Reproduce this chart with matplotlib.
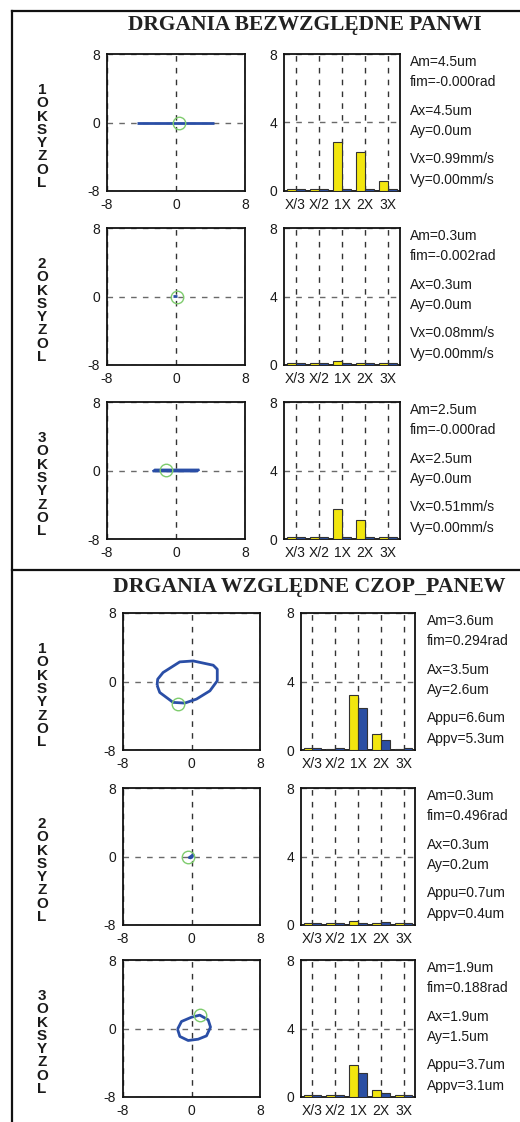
import matplotlib
matplotlib.use("Agg")
import matplotlib.pyplot as plt
from matplotlib.lines import Line2D

plt.rcParams['font.family'] = ['Liberation Sans', 'DejaVu Sans']

# ---------------- data ----------------
categories = ["X/3", "X/2", "1X", "2X", "3X"]
title_abs = "DRGANIA BEZWZGLĘDNE PANWI"
title_rel = "DRGANIA WZGLĘDNE CZOP_PANEW"
bearing_numbers = ["1", "2", "3"]
bearing_letters = ["O", "K", "S", "Y", "Z", "O", "L"]
orbit_ticks = [-8, 0, 8]
bar_ticks = [0, 4, 8]

# absolute vibrations (bearing shell) - spectrum amplitudes
abs_yellow = [
    [0.09, 0.09, 2.85, 2.27, 0.58],
    [0.09, 0.09, 0.24, 0.12, 0.09],
    [0.09, 0.09, 1.75, 1.12, 0.09],
]
abs_blue = [
    [0.09, 0.09, 0.09, 0.09, 0.09],
    [0.09, 0.09, 0.09, 0.09, 0.09],
    [0.09, 0.09, 0.09, 0.09, 0.09],
]
# relative vibrations (journal - bearing)
rel_yellow = [
    [0.09, 0.08, 3.20, 0.95, 0.08],
    [0.09, 0.09, 0.24, 0.12, 0.09],
    [0.09, 0.09, 1.85, 0.43, 0.09],
]
rel_blue = [
    [0.09, 0.09, 2.44, 0.61, 0.09],
    [0.09, 0.09, 0.14, 0.16, 0.09],
    [0.09, 0.09, 1.41, 0.25, 0.09],
]

abs_info = [
    ["Am=4.5um", "fim=-0.000rad", "Ax=4.5um", "Ay=0.0um", "Vx=0.99mm/s", "Vy=0.00mm/s"],
    ["Am=0.3um", "fim=-0.002rad", "Ax=0.3um", "Ay=0.0um", "Vx=0.08mm/s", "Vy=0.00mm/s"],
    ["Am=2.5um", "fim=-0.000rad", "Ax=2.5um", "Ay=0.0um", "Vx=0.51mm/s", "Vy=0.00mm/s"],
]
rel_info = [
    ["Am=3.6um", "fim=0.294rad", "Ax=3.5um", "Ay=2.6um", "Appu=6.6um", "Appv=5.3um"],
    ["Am=0.3um", "fim=0.496rad", "Ax=0.3um", "Ay=0.2um", "Appu=0.7um", "Appv=0.4um"],
    ["Am=1.9um", "fim=0.188rad", "Ax=1.9um", "Ay=1.5um", "Appu=3.7um", "Appv=3.1um"],
]

# orbits
abs_orbit_x1 = [-4.5, 4.4]
abs_orbit_y1 = [0.0, 0.0]
abs_orbit_x2 = [-0.3, 0.1]
abs_orbit_y2 = [0.05, 0.05]
abs_orbit_x3 = [-2.45, 2.7, 2.45, -2.7, -2.45]
abs_orbit_y3 = [0.1, 0.1, -0.1, -0.1, 0.1]
abs_marker_x = [0.4, 0.15, -1.2]
abs_marker_y = [0.0, -0.05, 0.1]

rel_orbit_x1 = [-4.02, -3.71, -2.15, -0.78, 0.59, 2.15, 3.01, 3.01, 2.54, 0.20, -1.37, -3.32, -3.95, -4.02]
rel_orbit_y1 = [-0.43, -1.28, -2.44, -2.52, -2.05, -1.09, 0.08, 1.43, 1.90, 2.40, 2.29, 1.05, 0.27, -0.43]
rel_orbit_x2 = [-0.35, 0.25, 0.1, -0.1, -0.35]
rel_orbit_y2 = [-0.15, 0.3, -0.1, -0.2, -0.15]
rel_orbit_x3 = [-1.63, -1.17, 0.0, 0.97, 1.95, 2.22, 1.75, 0.78, -0.39, -1.36, -1.63]
rel_orbit_y3 = [-0.08, 0.82, 1.32, 1.56, 1.01, 0.16, -0.86, -1.25, -1.40, -0.93, -0.08]
rel_marker_x = [-1.6, -0.4, 1.0]
rel_marker_y = [-2.6, 0.0, 1.6]

# ---------------- styles ----------------
W, H = 520, 1122
YELLOW = '#f2e60f'
BLUE = '#2b4fa3'
GREEN = '#7fcc6e'
LINE_BLUE = '#2a4ea6'
TXT = '#1a1a1a'
FS = 10

fig = plt.figure(figsize=(W / 100, H / 100), dpi=100)
fig.patch.set_facecolor('white')


def ax_px(x, y, w, h):
    return fig.add_axes([x / W, 1 - (y + h) / H, w / W, h / H])


def style_axes(ax):
    for s in ax.spines.values():
        s.set_linewidth(1.3)
        s.set_color('#111111')
    ax.tick_params(length=0, pad=5, labelsize=FS, colors=TXT)
    ax.set_axisbelow(True)
    ax.xaxis.grid(True, color='#333333', linestyle=(0, (4, 4.5)), linewidth=1.0)
    ax.yaxis.grid(True, color='#6a6a6a', linestyle=(0, (4, 4.5)), linewidth=1.0)


def orbit(ax, xs, ys, mx, my, fill=False):
    style_axes(ax)
    if fill:
        ax.fill(xs, ys, color=LINE_BLUE, lw=1.5, edgecolor=LINE_BLUE, zorder=3)
    else:
        ax.plot(xs, ys, color=LINE_BLUE, lw=2.0, solid_capstyle='butt', zorder=3)
    ax.plot([mx], [my], 'o', ms=9, mfc='none', mec=GREEN, mew=1.0, zorder=4)
    ax.set_xlim(-8, 8)
    ax.set_ylim(-8, 8)
    ax.set_xticks(orbit_ticks)
    ax.set_yticks(orbit_ticks)
    ax.set_xticklabels([str(t) for t in orbit_ticks])
    ax.set_yticklabels([str(t) for t in orbit_ticks])


def bars(ax, yv, bv):
    style_axes(ax)
    pos = list(range(1, len(categories) + 1))
    bw = 0.39
    ax.bar([p - bw / 2 for p in pos], yv, width=bw, color=YELLOW,
           edgecolor='#333333', linewidth=0.8, zorder=3)
    ax.bar([p + bw / 2 for p in pos], bv, width=bw, color=BLUE,
           edgecolor='#333333', linewidth=0.8, zorder=3)
    ax.set_xlim(0.5, 5.5)
    ax.set_ylim(0, 8)
    ax.set_xticks(pos)
    ax.set_xticklabels(categories)
    ax.set_yticks(bar_ticks)
    ax.set_yticklabels([str(t) for t in bar_ticks])


def info(x, top, lines):
    offs = [8, 28, 57, 77, 105, 126]
    for o, t in zip(offs, lines):
        fig.text(x / W, 1 - (top + o) / H, t, fontsize=FS, color=TXT,
                 ha='left', va='center')


def side_label(top, num):
    chars = [num] + bearing_letters
    for i, c in enumerate(chars):
        fig.text(42 / W, 1 - (top + 36 + i * 13.3) / H, c, fontsize=11,
                 fontweight='bold', color=TXT, ha='center', va='center')


# frame lines
fig.add_artist(Line2D([12 / W, 1.0], [1 - 11 / H, 1 - 11 / H], color='#111111', lw=1.6))
fig.add_artist(Line2D([12 / W, 12 / W], [1 - 11 / H, 0.0], color='#111111', lw=1.6))
fig.add_artist(Line2D([12 / W, 1.0], [1 - 570 / H, 1 - 570 / H], color='#111111', lw=1.6))

# titles
fig.text(305 / W, 1 - 25 / H, title_abs, fontsize=15.5, fontweight='bold',
         family=['Liberation Serif', 'DejaVu Serif'], color='#222222', ha='center', va='center')
fig.text(309 / W, 1 - 587 / H, title_rel, fontsize=15.7, fontweight='bold',
         family=['Liberation Serif', 'DejaVu Serif'], color='#222222', ha='center', va='center')

# absolute section
abs_tops = [54, 228, 402]
abs_orbits = [(abs_orbit_x1, abs_orbit_y1, False), (abs_orbit_x2, abs_orbit_y2, False),
              (abs_orbit_x3, abs_orbit_y3, True)]
for i, top in enumerate(abs_tops):
    a1 = ax_px(107, top, 138, 137)
    xs, ys, fl = abs_orbits[i]
    orbit(a1, xs, ys, abs_marker_x[i], abs_marker_y[i], fill=fl)
    a2 = ax_px(284, top, 116, 137)
    bars(a2, abs_yellow[i], abs_blue[i])
    info(410, top, abs_info[i])
    side_label(top, bearing_numbers[i])

# relative section
rel_tops = [613, 788, 960]
rel_orbits = [(rel_orbit_x1, rel_orbit_y1, False), (rel_orbit_x2, rel_orbit_y2, True),
              (rel_orbit_x3, rel_orbit_y3, False)]
for i, top in enumerate(rel_tops):
    a1 = ax_px(123, top, 137, 137)
    xs, ys, fl = rel_orbits[i]
    orbit(a1, xs, ys, rel_marker_x[i], rel_marker_y[i], fill=fl)
    a2 = ax_px(301, top, 114, 137)
    bars(a2, rel_yellow[i], rel_blue[i])
    info(427, top, rel_info[i])
    side_label(top, bearing_numbers[i])

fig.savefig('out.png', dpi=100, facecolor='white')
